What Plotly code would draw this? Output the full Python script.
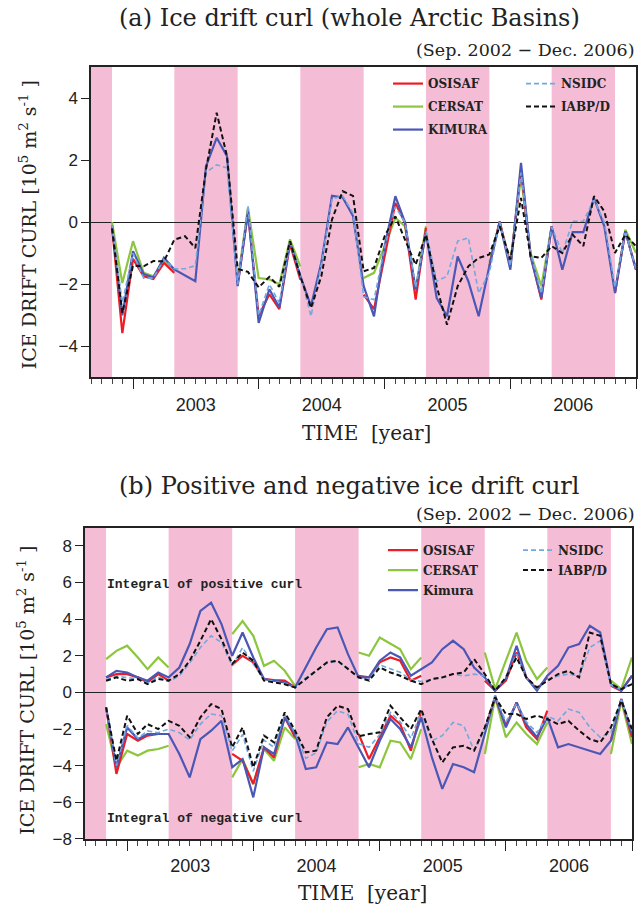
import pandas as pd
import plotly.graph_objects as go

NA = None
# Monthly values Oct 2002 .. Dec 2006 (plotted at the end of each month)
months = pd.period_range("2002-10", "2006-12", freq="M")
x_dates = (months + 1).to_timestamp()

# Summer periods (shaded)
summer_bands = [("2002-09-01", "2002-11-01"), ("2003-05-01", "2003-11-01"),
                ("2004-05-01", "2004-11-01"), ("2005-05-01", "2005-11-01"),
                ("2006-05-01", "2006-11-01")]

# ---------------- Panel (a): ice drift curl ----------------
osisaf_a = [-0.13, -3.57, -1.18, -1.74, -1.83, -1.31, -1.63, NA, NA, NA, NA, NA,
            -2.0, 0.3, -3.02, -2.32, -2.8, -0.7, -1.85, NA, NA, NA, NA, NA,
            -2.33, -2.8, -1.1, 0.62, -0.02, -2.49, -0.18, NA, NA, NA, NA, NA,
            -1.42, 0.03, -1.42, 1.7, -1.1, -2.49, -0.13, NA, NA, NA, NA, NA,
            -2.28, -0.29, -1.53]
cersat_a = [0.0, -1.96, -0.61, -1.63, -1.74, -1.26, -1.53, NA, NA, NA, NA, NA,
            -1.9, 0.47, -1.8, -1.84, -2.0, -0.55, -1.42, NA, NA, NA, NA, NA,
            -1.8, -1.63, -0.77, 0.14, -0.13, -2.17, -0.13, NA, NA, NA, NA, NA,
            -1.3, 0.0, -1.3, 1.48, -1.0, -2.06, -0.13, NA, NA, NA, NA, NA,
            -2.2, -0.24, -0.99]
kimura_a = [-0.1, -3.0, -0.93, -1.67, -1.78, -1.14, -1.52, -1.72, -1.9, 1.8, 2.72, 2.13,
            -2.06, 0.35, -3.24, -2.16, -2.75, -0.62, -1.73, -2.7, -1.3, 0.85, 0.8, 0.2,
            -2.06, -3.03, -0.77, 0.84, 0.0, -2.17, -0.34, -2.44, -3.03, -1.1, -1.9, -3.03,
            -1.42, 0.0, -1.53, 1.91, -1.1, -2.44, -0.13, -1.53, -0.32, -0.32, 0.78, -0.13,
            -2.28, -0.29, -1.53]
nsidc_a = [-0.1, -2.6, -1.0, -1.8, -1.8, -1.2, -1.5, -1.5, -1.4, 1.6, 1.85, 1.75,
           -2.0, 0.52, -3.0, -2.0, -2.6, -0.65, -1.7, -3.03, -1.35, 0.75, 0.85, 0.3,
           -2.4, -2.5, -0.8, 0.5, 0.0, -2.1, -0.3, -1.9, -1.74, -0.61, -0.5, -2.28,
           -1.63, 0.0, -1.4, 1.6, -1.0, -2.3, -0.15, -1.0, 0.03, 0.03, 0.73, 0.0,
           -2.1, -0.3, -1.5]
iabp_a = [-0.2, -2.92, -1.4, -1.42, -1.25, -1.26, -0.56, -0.45, -0.83, 1.7, 3.53, 2.13,
          -1.5, -1.6, -2.1, -1.76, -2.08, -0.61, -1.74, -2.76, -1.74, 0.09, 1.0, 0.85,
          -1.58, -1.47, -0.45, 0.19, -0.56, -1.37, -0.4, -2.06, -3.3, -2.06, -1.42, -1.15,
          -1.04, -0.13, -1.2, 0.78, -1.1, -1.15, -0.77, -0.99, -0.4, -0.77, 0.84, 0.35,
          -0.99, -0.4, -0.77]

# ---------------- Panel (b): positive / negative curl integrals ----------------
osisaf_pos = [0.82, 1.0, 1.0, 0.82, 0.55, 1.0, 0.64, NA, NA, NA, NA, NA,
              1.5, 2.0, 1.64, 0.73, 0.67, 0.64, 0.27, NA, NA, NA, NA, NA,
              0.9, 0.82, 1.64, 1.91, 1.73, 0.64, 0.91, NA, NA, NA, NA, NA,
              0.64, 0.09, 0.64, 2.18, 0.82, 0.18, 0.82, NA, NA, NA, NA, NA,
              0.36, 0.09, 0.91]
cersat_pos = [1.82, 2.27, 2.55, 1.91, 1.27, 1.91, 1.36, NA, NA, NA, NA, NA,
              3.18, 3.9, 3.09, 1.45, 1.73, 1.18, 0.36, NA, NA, NA, NA, NA,
              2.18, 2.0, 3.0, 2.64, 2.36, 1.27, 1.91, NA, NA, NA, NA, NA,
              2.18, 0.18, 1.73, 3.27, 1.73, 0.73, 1.36, NA, NA, NA, NA, NA,
              0.64, 0.18, 1.91]
kimura_pos = [0.82, 1.18, 1.09, 0.82, 0.64, 1.09, 0.82, 1.36, 2.64, 4.45, 4.9, 3.73,
              2.0, 3.27, 1.91, 0.73, 0.64, 0.55, 0.27, 1.36, 2.45, 3.45, 3.55, 2.09,
              0.82, 0.82, 1.73, 2.18, 1.91, 0.91, 1.27, 1.64, 2.36, 2.82, 2.36, 1.36,
              0.82, 0.09, 0.73, 2.55, 0.82, 0.09, 0.91, 1.45, 2.45, 2.64, 3.64, 3.27,
              0.45, 0.09, 0.91]
nsidc_pos = [0.7, 0.9, 0.8, 0.75, 0.5, 0.85, 0.6, 0.9, 1.6, 2.45, 3.09, 2.73,
             1.45, 2.45, 1.55, 0.7, 0.6, 0.5, 0.3, 0.8, 1.2, 1.6, 1.7, 1.3,
             0.8, 0.7, 1.5, 1.3, 1.1, 0.7, 0.6, 0.7, 0.8, 1.0, 0.9, 1.0,
             0.9, 0.1, 0.8, 2.1, 0.8, 0.2, 0.7, 0.9, 1.0, 0.9, 2.45, 2.82,
             0.4, 0.15, 0.5]
iabp_pos = [0.64, 0.82, 0.64, 0.73, 0.45, 0.73, 0.64, 1.0, 1.73, 2.82, 4.0, 2.91,
            1.55, 2.18, 1.73, 0.64, 0.55, 0.45, 0.27, 0.73, 1.18, 1.64, 1.73, 1.27,
            0.82, 0.64, 1.36, 1.09, 0.91, 0.64, 0.45, 0.73, 0.82, 1.0, 1.09, 1.82,
            1.0, 0.09, 0.82, 1.91, 0.82, 0.27, 0.64, 1.0, 1.18, 0.82, 3.27, 3.09,
            0.45, 0.18, 0.45]

osisaf_neg = [-0.82, -4.45, -2.27, -2.64, -2.36, -2.27, -2.27, NA, NA, NA, NA, NA,
              -3.36, -3.73, -5.0, -3.0, -3.55, -1.36, -2.45, NA, NA, NA, NA, NA,
              -2.27, -3.64, -2.45, -1.27, -1.73, -3.18, -1.0, NA, NA, NA, NA, NA,
              -2.0, -0.27, -1.82, -0.55, -1.91, -2.55, -1.0, NA, NA, NA, NA, NA,
              -2.64, -0.36, -2.45]
cersat_neg = [-1.73, -4.09, -3.18, -3.45, -3.18, -3.09, -2.91, NA, NA, NA, NA, NA,
              -4.64, -3.64, -5.0, -3.09, -3.73, -1.91, -2.55, NA, NA, NA, NA, NA,
              -4.09, -3.91, -4.09, -2.64, -2.73, -3.64, -2.0, NA, NA, NA, NA, NA,
              -3.36, -0.27, -2.45, -1.64, -2.27, -2.82, -1.64, NA, NA, NA, NA, NA,
              -3.36, -0.45, -2.82]
kimura_neg = [-0.82, -4.09, -1.91, -2.55, -2.27, -2.27, -2.27, -3.36, -4.64, -2.55, -2.09, -1.55,
              -4.09, -3.64, -5.73, -3.0, -3.36, -1.36, -2.27, -4.18, -4.09, -2.73, -2.82, -1.91,
              -3.0, -4.09, -2.64, -1.45, -2.0, -3.0, -1.36, -3.55, -5.27, -3.91, -4.09, -4.36,
              -2.27, -0.18, -1.91, -0.55, -1.73, -2.45, -1.36, -3.0, -2.82, -3.0, -3.18, -3.36,
              -2.64, -0.36, -2.27]
nsidc_neg = [-0.9, -4.0, -1.8, -2.5, -2.1, -2.2, -2.0, -2.2, -2.6, -1.73, -1.18, -1.27,
             -3.2, -2.3, -4.3, -2.6, -3.0, -1.2, -2.2, -3.6, -3.3, -1.6, -1.0, -1.2,
             -2.8, -3.0, -2.3, -1.1, -1.6, -2.5, -1.1, -2.64, -2.36, -1.64, -1.82, -3.18,
             -2.0, -0.2, -1.6, -0.6, -1.6, -2.2, -1.3, -1.55, -0.91, -1.09, -1.91, -2.45,
             -2.2, -0.4, -2.1]
iabp_neg = [-0.82, -3.73, -1.27, -2.27, -1.73, -2.0, -1.55, -1.82, -2.45, -1.36, -0.64, -0.91,
            -3.0, -1.91, -4.09, -2.36, -2.73, -1.09, -2.09, -3.27, -3.18, -1.36, -0.73, -0.91,
            -2.4, -2.27, -2.18, -0.73, -1.36, -2.0, -0.91, -2.55, -3.82, -3.0, -2.91, -3.18,
            -1.91, -0.27, -1.18, -1.18, -1.45, -1.27, -1.45, -1.73, -1.55, -2.09, -2.55, -2.73,
            -1.91, -0.45, -2.0]

year_ticks_start = "2003-01-01"
yticks_a = [-4, -2, 0, 2, 4]
yticks_b = [-8, -6, -4, -2, 0, 2, 4, 6, 8]

# ---------------- styles ----------------
RED, GREEN, BLUE, LBLUE, BLACK = "#ee1c25", "#8cc63f", "#4b57b5", "#72a8de", "#111111"
PINK = "#f5bdd5"
SERIF = "DejaVu Serif"
SANS = "Liberation Sans"

series_style = {
    "OSISAF": dict(color=RED, width=2.2),
    "CERSAT": dict(color=GREEN, width=2.2),
    "KIMURA": dict(color=BLUE, width=2.2),
    "NSIDC": dict(color=LBLUE, width=1.6, dash="5px,3px"),
    "IABP/D": dict(color=BLACK, width=2.0, dash="5px,3px"),
}
legend_col = {"OSISAF": 0, "CERSAT": 0, "KIMURA": 0, "NSIDC": 1, "IABP/D": 1}
legend_rank = {"OSISAF": 1, "CERSAT": 2, "KIMURA": 3, "NSIDC": 1, "IABP/D": 2}

fig = go.Figure()

panel_a = [("CERSAT", cersat_a), ("OSISAF", osisaf_a), ("KIMURA", kimura_a),
           ("NSIDC", nsidc_a), ("IABP/D", iabp_a)]
for name, vals in panel_a:
    lg = ["legend", "legend2"][legend_col[name]]
    fig.add_trace(go.Scatter(x=x_dates, y=vals, mode="lines", name=name,
                             line=series_style[name], connectgaps=False,
                             xaxis="x", yaxis="y", legend=lg, legendgroup="a" + name,
                             legendrank=legend_rank[name]))

panel_b = [("CERSAT", "CERSAT", cersat_pos, cersat_neg),
           ("OSISAF", "OSISAF", osisaf_pos, osisaf_neg),
           ("KIMURA", "Kimura", kimura_pos, kimura_neg),
           ("NSIDC", "NSIDC", nsidc_pos, nsidc_neg),
           ("IABP/D", "IABP/D", iabp_pos, iabp_neg)]
for key, label, pos, neg in panel_b:
    lg = ["legend3", "legend4"][legend_col[key]]
    fig.add_trace(go.Scatter(x=x_dates, y=pos, mode="lines", name=label,
                             line=series_style[key], connectgaps=False,
                             xaxis="x2", yaxis="y2", legend=lg,
                             legendgroup="b" + key, legendrank=legend_rank[key]))
    fig.add_trace(go.Scatter(x=x_dates, y=neg, mode="lines", name=label,
                             line=series_style[key], connectgaps=False,
                             xaxis="x2", yaxis="y2", legend=lg, legendgroup="b" + key,
                             showlegend=False))

# shaded summer bands
for xr, yr in (("x", "y"), ("x2", "y2")):
    for s, e in summer_bands:
        fig.add_shape(type="rect", xref=xr, yref=yr + " domain", x0=s, x1=e,
                      y0=0, y1=1, fillcolor=PINK, line_width=0, layer="below")

W, H = 640, 904          # reference picture size (positions below are in its pixels)
RENDER_H = 915           # page is photographed slightly taller and fitted to 904
def xdom(l, r):
    return [l / W, r / W]
def ydom(t, b):
    return [1 - b / H, 1 - t / H]

xcommon = dict(type="date", range=["2002-09-01", "2007-01-01"], dtick="M12",
               tick0=year_ticks_start, ticklabelmode="period", tickformat="%Y",
               ticks="outside", ticklen=10, tickwidth=1.3, tickcolor="#222",
               minor=dict(dtick="M1", ticks="outside", ticklen=5, tickwidth=1,
                          tickcolor="#444"),
               showline=True, mirror=True, linecolor="#222", linewidth=1.5,
               showgrid=False, zeroline=False,
               tickfont=dict(family=SANS, size=18, color="#222"))
ycommon = dict(ticks="outside", ticklen=8, tickwidth=1.3, tickcolor="#222",
               showline=True, mirror=True, linecolor="#222", linewidth=1.5,
               showgrid=False, zeroline=True, zerolinecolor="#222", zerolinewidth=1.2,
               tickfont=dict(family=SANS, size=17, color="#222"))

def legend_box(left, top, gap):
    return dict(orientation="v", x=left / W, y=1 - top / H, xanchor="left", yanchor="top",
                bgcolor="rgba(0,0,0,0)", borderwidth=0, tracegroupgap=gap, itemwidth=30,
                font=dict(family=SERIF, size=12, color="#222", weight="bold"),
                traceorder="grouped")

fig.update_layout(
    width=W, height=RENDER_H, margin=dict(l=0, r=0, t=0, b=0),
    paper_bgcolor="white", plot_bgcolor="white", showlegend=True,
    xaxis=dict(domain=xdom(91, 636), anchor="y", **xcommon),
    yaxis=dict(domain=ydom(67, 377), anchor="x", range=[-5, 5], tickvals=yticks_a, **ycommon),
    xaxis2=dict(domain=xdom(85, 632), anchor="y2", **xcommon),
    yaxis2=dict(domain=ydom(527, 838), anchor="x2", range=[-8, 9], tickvals=yticks_b, **ycommon),
    legend=legend_box(388, 69, 4),
    legend2=legend_box(521, 69, 4),
    legend3=legend_box(383, 535, 1),
    legend4=legend_box(518, 535, 1),
)

ytitle = "ICE DRIFT CURL [10<sup>5</sup> m<sup>2</sup> s<sup>-1</sup> ]"
annos = [
    dict(text="(a) Ice drift curl (whole Arctic Basins)", x=349 / W, y=1 - 18 / H,
         font=dict(family=SERIF, size=24, color="#222")),
    dict(text="(Sep. 2002 \u2212 Dec. 2006)", x=637 / W, y=1 - 50 / H, xanchor="right",
         font=dict(family=SERIF, size=17.5, color="#222")),
    dict(text="TIME  [year]", x=366 / W, y=1 - 433 / H,
         font=dict(family=SERIF, size=20, color="#222")),
    dict(text=ytitle, x=28 / W, y=1 - 225 / H, textangle=-90,
         font=dict(family=SERIF, size=19, color="#222")),
    dict(text="(b) Positive and negative ice drift curl", x=349 / W, y=1 - 485 / H,
         font=dict(family=SERIF, size=24, color="#222")),
    dict(text="(Sep. 2002 \u2212 Dec. 2006)", x=637 / W, y=1 - 513 / H, xanchor="right",
         font=dict(family=SERIF, size=17.5, color="#222")),
    dict(text="TIME  [year]", x=362 / W, y=1 - 892 / H,
         font=dict(family=SERIF, size=20, color="#222")),
    dict(text=ytitle, x=26 / W, y=1 - 690 / H, textangle=-90,
         font=dict(family=SERIF, size=19, color="#222")),
]
for a in annos:
    a.setdefault("xanchor", "center")
    fig.add_annotation(xref="paper", yref="paper", showarrow=False, yanchor="middle", **a)

for txt, yv in (("Integral of positive curl", 5.9), ("Integral of negative curl", -6.9)):
    fig.add_annotation(text=txt, xref="x2 domain", yref="y2", x=0.037, y=yv,
                       xanchor="left", yanchor="middle", showarrow=False,
                       font=dict(family="Liberation Mono", size=13, color="#222", weight="bold"))

post = ("document.documentElement.style.margin='0';document.body.style.margin='0';"
        "document.body.style.overflow='hidden';")
fig.write_html("out.html", config={"displayModeBar": False}, post_script=post)
